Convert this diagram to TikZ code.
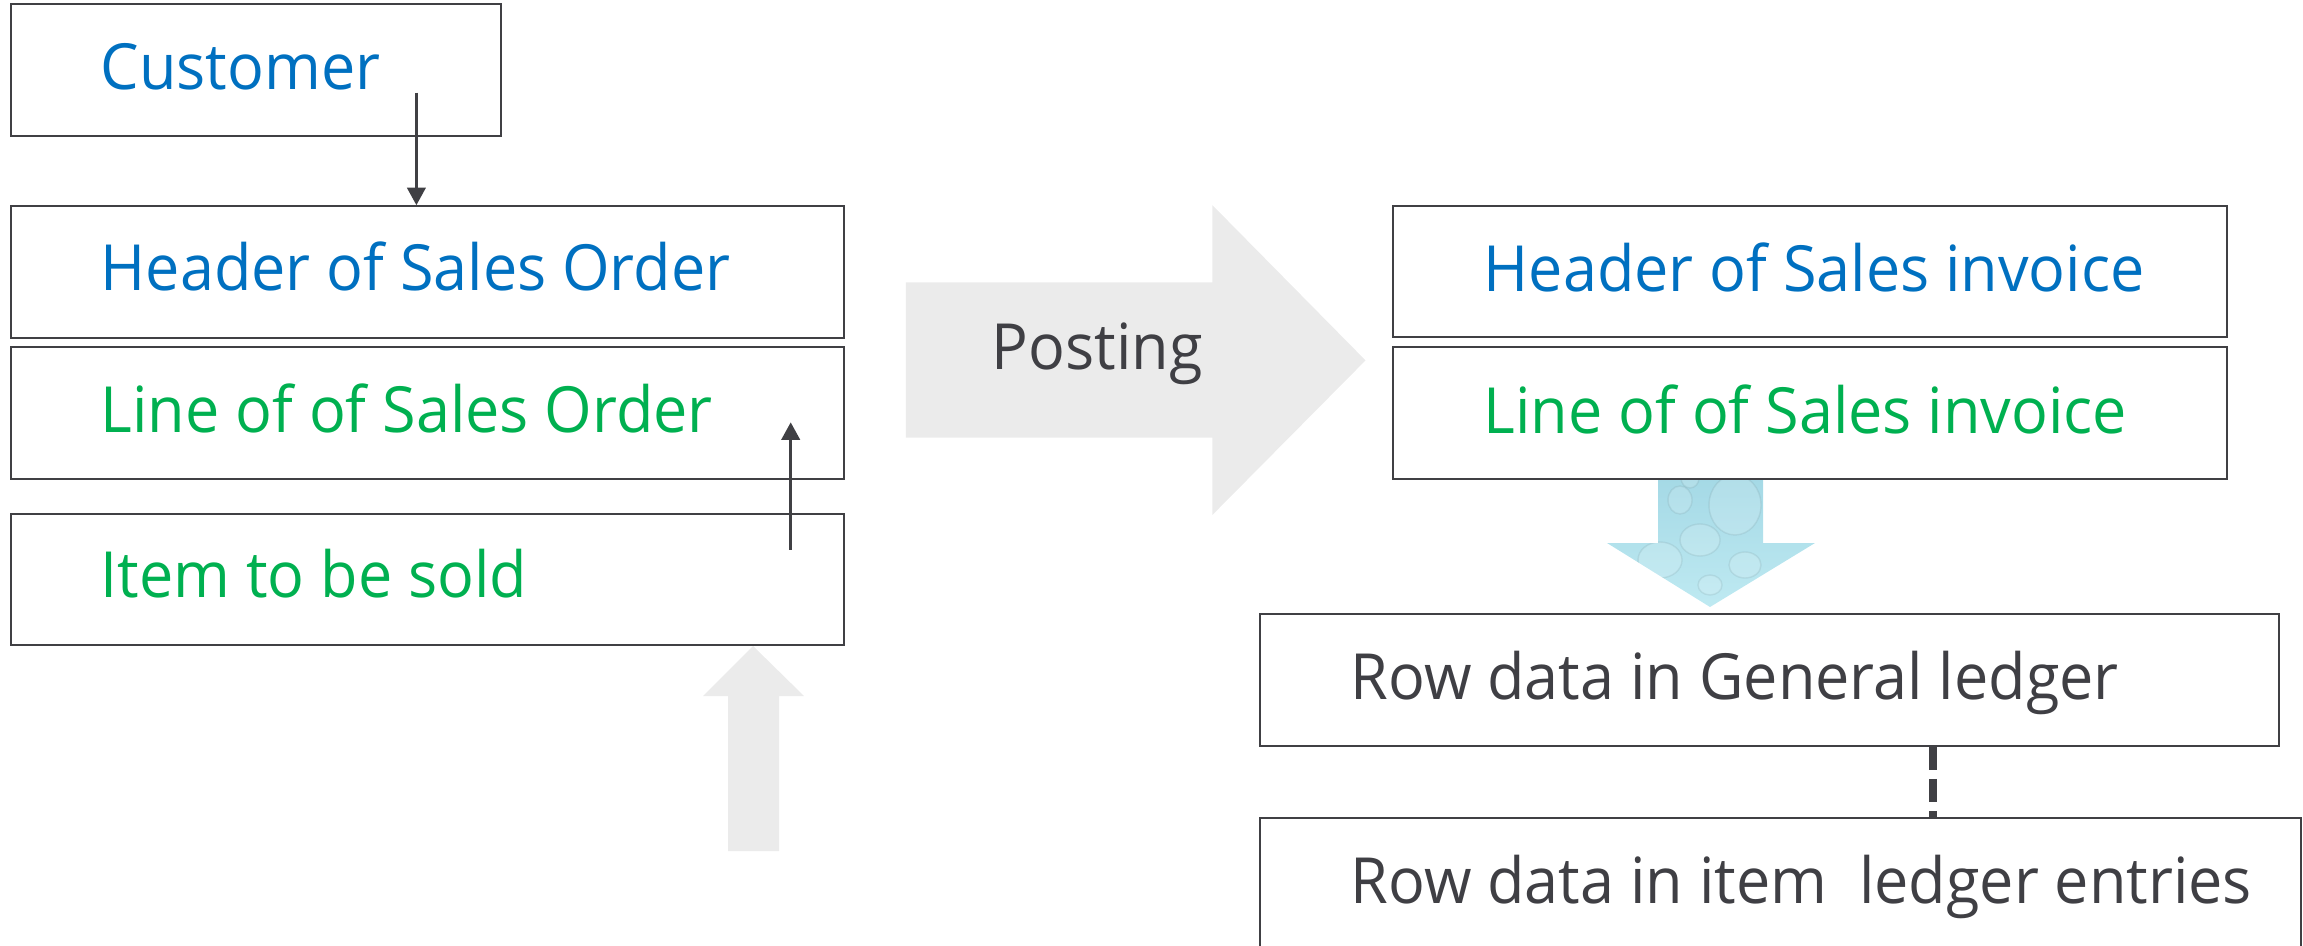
\documentclass[tikz,border=0pt]{standalone}
\usepackage{fontspec}
\setmainfont{Open Sans}[FakeStretch=0.96]
\usetikzlibrary{arrows.meta,fit}
\definecolor{tblue}{HTML}{0070C0}
\definecolor{tgreen}{HTML}{00B050}
\definecolor{tdark}{HTML}{3F3F44}
\definecolor{bline}{HTML}{404044}
\definecolor{garrow}{HTML}{EBEBEB}
\definecolor{wtop}{HTML}{A3D8E5}
\definecolor{wbot}{HTML}{BFEAF2}
\begin{document}
\begin{tikzpicture}[x=0.01cm,y=-0.01cm,
  box/.style={draw=bline,line width=0.6pt,inner sep=0pt},
  txt/.style={anchor=base west,inner sep=0pt,font=\fontsize{18.1pt}{22pt}\selectfont},
  conn/.style={draw=bline,line width=0.9pt,-{Triangle[width=5.2pt,length=5pt]}},
  dashline/.style={draw=bline,line width=2.3pt,dash pattern=on 6.5pt off 2.6pt},
  bigarrow/.style={fill=garrow,draw=none},
  bubble/.style={fill=white,fill opacity=0.15,draw=wtop!60!black,draw opacity=0.15,line width=0.4pt}]
\useasboundingbox (0,0) rectangle (2303,946);
\clip (0,0) rectangle (2303,946);
% big grey arrows
\fill[bigarrow] (905.8,282.4) -- (1212.3,282.4) -- (1212.3,205.1) -- (1365.5,360.4)
   -- (1212.3,515) -- (1212.3,437.6) -- (905.8,437.6) -- cycle;
\fill[bigarrow] (728,851) -- (728,696) -- (703,696) -- (753,646) -- (804,696)
   -- (779,696) -- (779,851) -- cycle;
% water arrow
\begin{scope}
\path[clip] (1658,479) -- (1763,479) -- (1763,543) -- (1815,543) -- (1710,607)
   -- (1607,543) -- (1658,543) -- cycle;
\shade[top color=wtop,bottom color=wbot] (1600,470) rectangle (1820,610);
\draw[bubble] (1735,505) ellipse (26 and 30);
\draw[bubble] (1680,500) ellipse (12 and 14);
\draw[bubble] (1700,540) ellipse (20 and 16);
\draw[bubble] (1660,560) ellipse (22 and 18);
\draw[bubble] (1745,565) ellipse (16 and 13);
\draw[bubble] (1710,585) ellipse (12 and 10);
\draw[bubble] (1690,478) ellipse (9 and 10);
\end{scope}
% boxes
\node[box,fit={(11,4.2) (501.4,136)}] (cust) {};
\node[box,fit={(11,206.3) (843.8,337.7)}] (hso) {};
\node[box,fit={(11,347.4) (843.8,479.2)}] (lso) {};
\node[box,fit={(11,513.7) (843.8,645)}] (item) {};
\node[box,fit={(1393,205.7) (2227.3,337)}] (hsi) {};
\node[box,fit={(1393,347.3) (2227.3,479)}] (lsi) {};
\node[box,fit={(1260.4,614) (2278.8,745.7)}] (gl) {};
\node[box,fit={(1260.4,817.7) (2301,990)}] (il) {};
% texts
\node[txt,text=tblue] (tcust) at (100,89.7) {Customer};
\node[txt,text=tblue] (thso) at (100,290.5) {Header of Sales Order};
\node[txt,text=tgreen] (tlso) at (100,432.4) {Line of of Sales Order};
\node[txt,text=tgreen] (titem) at (100,597.9) {Item to be sold};
\node[txt,text=tblue] (thsi) at (1483,291.7) {Header of Sales invoice};
\node[txt,text=tgreen] (tlsi) at (1483,433.3) {Line of of Sales invoice};
\node[txt,text=tdark] (tpost) at (991,369.8) {Posting};
\node[txt,text=tdark] (tgl) at (1350,699.3) {Row data in General ledger};
\node[txt,text=tdark] (til) at (1350,903.3) {Row data in item\ \ ledger entries};
% connectors
\coordinate (cs) at (416.4,92.6);
\draw[conn] (cs) -- (cs |- hso.north);
\coordinate (us) at (790.7,549.5);
\coordinate (ue) at (790.7,422.3);
\draw[conn] (us) -- (ue);
\coordinate (dx) at (1933,0);
\draw[dashline] (gl.south -| dx) -- (il.north -| dx);
\end{tikzpicture}
\end{document}
